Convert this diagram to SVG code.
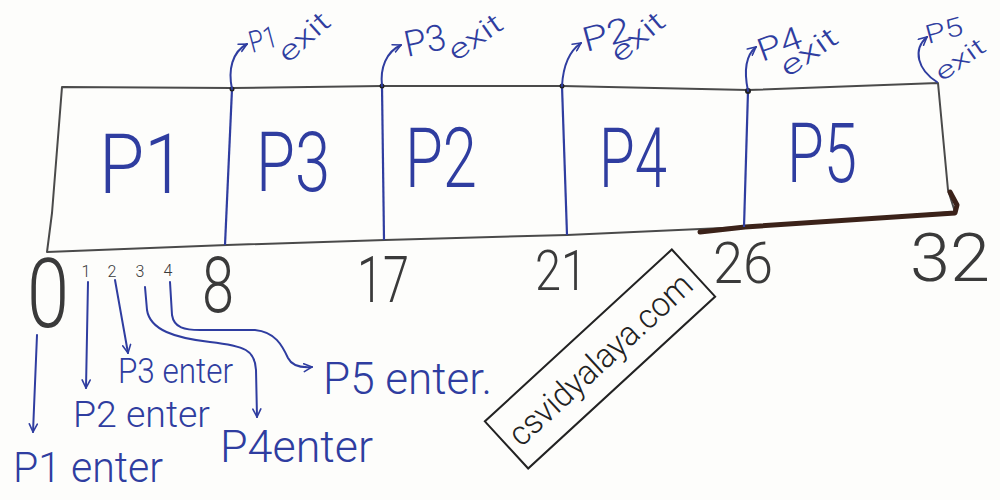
<svg xmlns="http://www.w3.org/2000/svg" width="1000" height="500" viewBox="0 0 1000 500">
  <style>
    .pen { font-family: Roboto, "Liberation Sans", sans-serif; font-weight: 300; fill: #2f3da0; }
    .num { font-family: Roboto, "Liberation Sans", sans-serif; font-weight: 300; fill: #3a3a3a; text-anchor: middle; }
    .cell { font-size: 84px; text-anchor: middle; }
    .conn { fill: none; stroke: #2f3da0; stroke-width: 2; stroke-linecap: round; stroke-linejoin: round; }
    .div { fill: none; stroke: #2f3da0; stroke-width: 2.2; }
    .frame { fill: none; stroke: #4a4a4a; stroke-width: 2; stroke-linejoin: round; }
    .ex { font-size: 28px; }
  </style>
  <defs>
    <marker id="arr" viewBox="0 0 10 10" refX="9" refY="5" markerWidth="10" markerHeight="10" markerUnits="userSpaceOnUse" orient="auto">
      <path d="M1,1 L9,5 L1,9" fill="none" stroke="#2f3da0" stroke-width="1.6" stroke-linecap="round"/>
    </marker>
  </defs>
  <rect width="1000" height="500" fill="#fdfdfb"/>

  <g id="chart-frame">
    <path class="frame" d="M62,87 L232,88 L382,86 L562,86 L748,90 L938,83 L948,190 L955,212 L745,227 L567,235 L385,240 L227,245 L47,252 L52,213 Z"/>
    <path d="M700,232 L745,227 L955,213 L957,205 L950,192" fill="none" stroke="#3b2219" stroke-width="5" stroke-linecap="round" stroke-linejoin="round"/>
    <line class="div" x1="232" y1="89" x2="225" y2="245"/>
    <line class="div" x1="382" y1="86" x2="384" y2="240"/>
    <line class="div" x1="562" y1="86" x2="567" y2="235"/>
    <line class="div" x1="748" y1="91" x2="744" y2="227"/>
    <g fill="#222">
      <circle cx="232" cy="89" r="2.5"/>
      <circle cx="382" cy="86" r="2.5"/>
      <circle cx="562" cy="86" r="2.5"/>
      <circle cx="748" cy="91" r="3"/>
    </g>
  </g>

  <g id="cell-P1"><text class="pen cell" x="142" y="193" textLength="86" lengthAdjust="spacingAndGlyphs">P1</text></g>
  <g id="cell-P3"><text class="pen cell" x="293" y="191" textLength="74" lengthAdjust="spacingAndGlyphs">P3</text></g>
  <g id="cell-P2"><text class="pen cell" x="441" y="187" textLength="72" lengthAdjust="spacingAndGlyphs">P2</text></g>
  <g id="cell-P4"><text class="pen cell" x="633" y="187" textLength="68" lengthAdjust="spacingAndGlyphs">P4</text></g>
  <g id="cell-P5"><text class="pen cell" x="822" y="182" textLength="70" lengthAdjust="spacingAndGlyphs">P5</text></g>

  <g id="time-labels">
    <text class="num" x="48" y="327" font-size="96" textLength="42" lengthAdjust="spacingAndGlyphs">0</text>
    <text class="num" x="86" y="277" font-size="16">1</text>
    <text class="num" x="112" y="277" font-size="16">2</text>
    <text class="num" x="140" y="277" font-size="16">3</text>
    <text class="num" x="168" y="276" font-size="16">4</text>
    <text class="num" x="218" y="312" font-size="78" textLength="32" lengthAdjust="spacingAndGlyphs">8</text>
    <text class="num" x="383" y="302" font-size="64" textLength="52" lengthAdjust="spacingAndGlyphs">17</text>
    <text class="num" x="561" y="290" font-size="56" textLength="52" lengthAdjust="spacingAndGlyphs">21</text>
    <text class="num" x="743" y="283" font-size="57" textLength="60" lengthAdjust="spacingAndGlyphs">26</text>
    <text class="num" x="950" y="281" font-size="66" textLength="80" lengthAdjust="spacingAndGlyphs">32</text>
  </g>

  <g id="exit-P1">
    <text class="pen" x="252" y="53" font-size="30" textLength="28" lengthAdjust="spacingAndGlyphs" transform="rotate(-15 252 53)">P1</text>
    <text class="pen ex" x="288" y="64" textLength="60" lengthAdjust="spacingAndGlyphs" transform="rotate(-42 288 64)">exit</text>
  </g>
  <g id="exit-P3">
    <text class="pen" x="407" y="57" font-size="36" textLength="42" lengthAdjust="spacingAndGlyphs" transform="rotate(-12 407 57)">P3</text>
    <text class="pen ex" x="456" y="62" textLength="60" lengthAdjust="spacingAndGlyphs" transform="rotate(-35 456 62)">exit</text>
  </g>
  <g id="exit-P2">
    <text class="pen" x="586" y="52" font-size="34" textLength="48" lengthAdjust="spacingAndGlyphs" transform="rotate(-15 586 52)">P2</text>
    <text class="pen ex" x="620" y="64" textLength="62" lengthAdjust="spacingAndGlyphs" transform="rotate(-40 620 64)">exit</text>
  </g>
  <g id="exit-P4">
    <text class="pen" x="762" y="62" font-size="32" textLength="45" lengthAdjust="spacingAndGlyphs" transform="rotate(-20 762 62)">P4</text>
    <text class="pen ex" x="788" y="78" textLength="64" lengthAdjust="spacingAndGlyphs" transform="rotate(-35 788 78)">exit</text>
  </g>
  <g id="exit-P5">
    <text class="pen" x="928" y="44" font-size="26" textLength="38" lengthAdjust="spacingAndGlyphs" transform="rotate(-15 928 44)">P5</text>
    <text class="pen" x="942" y="82" font-size="24" textLength="56" lengthAdjust="spacingAndGlyphs" transform="rotate(-35 942 82)">exit</text>
  </g>

  <g id="enter-P1"><text class="pen" x="13" y="482" font-size="42" textLength="150" lengthAdjust="spacingAndGlyphs">P1 enter</text></g>
  <g id="enter-P2"><text class="pen" x="73" y="427" font-size="36" textLength="137" lengthAdjust="spacingAndGlyphs">P2 enter</text></g>
  <g id="enter-P3"><text class="pen" x="118" y="383" font-size="35" textLength="115" lengthAdjust="spacingAndGlyphs">P3 enter</text></g>
  <g id="enter-P4"><text class="pen" x="220" y="462" font-size="44" textLength="153" lengthAdjust="spacingAndGlyphs">P4enter</text></g>
  <g id="enter-P5"><text class="pen" x="323" y="394" font-size="44" textLength="169" lengthAdjust="spacingAndGlyphs">P5 enter.</text></g>

  <g id="connectors">
    <path class="conn" marker-end="url(#arr)" d="M232,89 C228,70 232,52 247,44"/>
    <path class="conn" marker-end="url(#arr)" d="M382,86 C380,68 386,52 401,45"/>
    <path class="conn" marker-end="url(#arr)" d="M562,86 C563,68 568,52 581,43"/>
    <path class="conn" marker-end="url(#arr)" d="M748,91 C744,72 745,56 756,47"/>
    <path class="conn" marker-end="url(#arr)" d="M937,82 C918,70 912,50 927,37"/>
    <path class="conn" marker-end="url(#arr)" d="M37,335 L33,432"/>
    <path class="conn" marker-end="url(#arr)" d="M88,282 L86,388"/>
    <path class="conn" marker-end="url(#arr)" d="M115,280 L128,353"/>
    <path class="conn" marker-end="url(#arr)" d="M145,287 L147,310 C150,330 175,338 210,342 C245,346 255,350 256,370 L257,417"/>
    <path class="conn" marker-end="url(#arr)" d="M170,282 L172,315 C174,328 185,330 200,330 L255,330 C275,332 282,345 288,358 C292,366 300,368 312,367"/>
  </g>

  <g id="watermark">
    <rect x="473" y="327" width="254" height="64" fill="none" stroke="#222" stroke-width="2" transform="rotate(-42.6 600 359)"/>
    <text x="600" y="371" font-family="Roboto, 'Liberation Sans', sans-serif" font-weight="300" font-size="34" fill="#222" text-anchor="middle" textLength="236" lengthAdjust="spacingAndGlyphs" transform="rotate(-42.6 600 359)">csvidyalaya.com</text>
  </g>
</svg>
